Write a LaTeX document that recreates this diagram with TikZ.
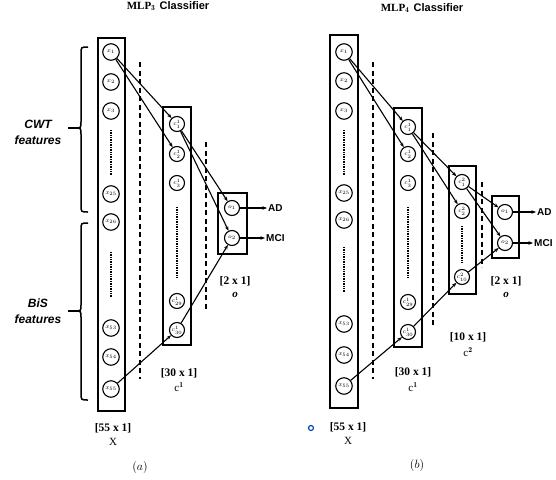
\documentclass[tikz,border=0pt]{standalone}
\usepackage{fontspec}
\setsansfont{Liberation Sans}
\newfontfamily\lblserif{Liberation Serif}
\usetikzlibrary{arrows.meta}
\tikzset{
  neuron/.style={circle,draw,line width=1.1pt,minimum size=15pt,inner sep=0pt,font=\fontsize{6}{6}\selectfont},
  xneuron/.style={neuron,minimum size=16.5pt},
  layerbox/.style={draw,line width=1.5pt},
  conn/.style={line width=1.1pt,-{Stealth[length=4.5pt,width=3.5pt]}},
  sep/.style={line width=1.4pt,dash pattern=on 5pt off 3.5pt},
  dotcol/.style={line width=1.3pt,dash pattern=on 0.8pt off 0.9pt},
  brace/.style={line width=1.5pt},
  bracetip/.style={line width=2.5pt},
  outlbl/.style={anchor=west,inner sep=1pt,font=\sffamily\bfseries\fontsize{10}{10}\selectfont},
  dimlbl/.style={font=\lblserif\bfseries\fontsize{11.5}{12}\selectfont,inner sep=0pt},
  symlbl/.style={font=\lblserif\fontsize{11}{12}\selectfont,inner sep=0pt},
  caplbl/.style={font=\fontsize{12}{12}\selectfont,inner sep=0pt},
  featlbl/.style={align=center,font=\sffamily\bfseries\itshape\fontsize{12}{16}\selectfont},
  title/.style={font=\bfseries\fontsize{11}{12}\selectfont}
}
\begin{document}
\begin{tikzpicture}[x=1pt,y=-1pt]
\useasboundingbox (0,0) rectangle (556,479);

% ================= (a) MLP3 =================
\node[title] (ta) at (168,6) {{\lblserif MLP}$_{\mathbf 3}$ {\sffamily Classifier}};

\draw[layerbox] (98,38) rectangle (125,411);
\draw[layerbox] (163,107) rectangle (191,345);
\draw[layerbox] (218,193) rectangle (247,254);

\node[xneuron] (ax1) at (111,52) {$x_{1}$};
\node[xneuron] (ax2) at (111,82) {$x_{2}$};
\node[xneuron] (ax3) at (111,111) {$x_{3}$};
\node[xneuron] (ax25) at (111,194) {$x_{25}$};
\node[xneuron] (ax26) at (111,222) {$x_{26}$};
\node[xneuron] (ax53) at (111,328) {$x_{53}$};
\node[xneuron] (ax54) at (111,357) {$x_{54}$};
\node[xneuron] (ax55) at (111,389) {$x_{55}$};
\draw[dotcol] (111,130) -- (111,175);
\draw[dotcol] (111,252) -- (111,297);

\node[neuron] (ac1) at (177,124) {$c^{1}_{1}$};
\node[neuron] (ac2) at (177,154) {$c^{1}_{2}$};
\node[neuron] (ac3) at (177,183) {$c^{1}_{3}$};
\node[neuron] (ac29) at (177,301) {$c^{1}_{29}$};
\node[neuron] (ac30) at (177,330) {$c^{1}_{30}$};
\draw[dotcol] (177,207) -- (177,278);

\node[neuron] (ao1) at (232,208) {$o_{1}$};
\node[neuron] (ao2) at (232,238) {$o_{2}$};

\draw[sep] (140,62) -- (140,379);
\draw[sep] (206,142) -- (206,310);

\draw[conn] (ax1) -- (ac1);
\draw[conn] (ax1) -- (ac2);
\draw[conn] (ac1) -- (ao1);
\draw[conn] (ac1) -- (ao2);
\draw[conn] (ax55) -- (ac30);
\draw[conn] (ac30) -- (ao2);

\node[outlbl] (aad) at (267,208) {AD};
\node[outlbl] (amci) at (265,238) {MCI};
\draw[conn] (ao1) -- (aad);
\draw[conn] (ao2) -- (amci);

% braces
\draw[brace] (88,47) .. controls (81,47) .. (81,54) -- (81,122) .. controls (81,128) .. (75,128)
             .. controls (81,128) .. (81,134) -- (81,205) .. controls (81,212) .. (88,212);
\draw[bracetip] (68,128) -- (76,128);
\draw[brace] (88,223) .. controls (81,223) .. (81,230) -- (81,305) .. controls (81,311) .. (75,311)
             .. controls (81,311) .. (81,317) -- (81,393) .. controls (81,400) .. (88,400);
\draw[bracetip] (68,311) -- (76,311);
\node[featlbl] (cwt) at (38,132) {CWT\\features};
\node[featlbl] (bis) at (38,311) {BiS\\features};

\node[dimlbl] (ad2) at (235,281) {[2 x 1]};
\node[symlbl] (ao) at (235,295) {\bfseries\itshape o};
\node[dimlbl] (ad30) at (179,373) {[30 x 1]};
\node[symlbl] (ac) at (179,387) {c$^{\mathbf 1}$};
\node[dimlbl] (ad55) at (113,428) {[55 x 1]};
\node[symlbl] (aX) at (113,442) {X};
\node[caplbl] (acap) at (140,467) {$(a)$};

% ================= (b) MLP4 =================
\node[title] (tb) at (422,8) {{\lblserif MLP}$_{\mathbf 4}$ {\sffamily Classifier}};

\draw[layerbox] (330,35) rectangle (358,408);
\draw[layerbox] (394,108) rectangle (422,347);
\draw[layerbox] (449,166) rectangle (476,294);
\draw[layerbox] (492,196) rectangle (519,258);

\node[xneuron] (bx1) at (344,52) {$x_{1}$};
\node[xneuron] (bx2) at (344,81) {$x_{2}$};
\node[xneuron] (bx3) at (344,111) {$x_{3}$};
\node[xneuron] (bx25) at (344,193) {$x_{25}$};
\node[xneuron] (bx26) at (344,220) {$x_{26}$};
\node[xneuron] (bx53) at (344,324) {$x_{53}$};
\node[xneuron] (bx54) at (344,355) {$x_{54}$};
\node[xneuron] (bx55) at (344,386) {$x_{55}$};
\draw[dotcol] (344,130) -- (344,175);
\draw[dotcol] (344,247) -- (344,292);

\node[neuron] (bc1) at (408,127) {$c^{1}_{1}$};
\node[neuron] (bc2) at (408,154) {$c^{1}_{2}$};
\node[neuron] (bc3) at (408,183) {$c^{1}_{3}$};
\node[neuron] (bc29) at (408,302) {$c^{1}_{29}$};
\node[neuron] (bc30) at (408,332) {$c^{1}_{30}$};
\draw[dotcol] (408,207) -- (408,278);

\node[neuron] (bd1) at (462,182) {$c^{2}_{1}$};
\node[neuron] (bd2) at (462,211) {$c^{2}_{2}$};
\node[neuron] (bd10) at (462,277) {$c^{2}_{10}$};
\draw[dotcol] (462,226) -- (462,263);

\node[neuron] (bo1) at (505,212) {$o_{1}$};
\node[neuron] (bo2) at (505,243) {$o_{2}$};

\draw[sep] (373,62) -- (373,379);
\draw[sep] (433,133) -- (433,328);
\draw[sep] (482,182) -- (482,267);

\draw[conn] (bx1) -- (bc1);
\draw[conn] (bx1) -- (bc2);
\draw[conn] (bc1) -- (bd1);
\draw[conn] (bc1) -- (bd2);
\draw[conn] (bd1) -- (bo1);
\draw[conn] (bd1) -- (bo2);
\draw[conn] (bx55) -- (bc30);
\draw[conn] (bc30) -- (bd10);
\draw[conn] (bd10) -- (bo2);

\node[outlbl] (bad) at (536,212) {AD};
\node[outlbl] (bmci) at (533,243) {MCI};
\draw[conn] (bo1) -- (bad);
\draw[conn] (bo2) -- (bmci);

\node[dimlbl] (bd2x) at (506,281) {[2 x 1]};
\node[symlbl] (bo) at (506,295) {\bfseries\itshape o};
\node[dimlbl] (bd10x) at (468,337) {[10 x 1]};
\node[symlbl] (bc2l) at (468,352) {c$^{\mathbf 2}$};
\node[dimlbl] (bd30) at (413,372) {[30 x 1]};
\node[symlbl] (bc1l) at (413,387) {c$^{\mathbf 1}$};
\node[dimlbl] (bd55) at (348,427) {[55 x 1]};
\node[symlbl] (bX) at (348,441) {X};
\node[caplbl] (bcap) at (417,465) {$(b)$};
\node[circle,draw=blue!60!cyan!70!black,line width=1.2pt,minimum size=5pt,inner sep=0pt] (dot) at (311,428) {};
\end{tikzpicture}
\end{document}
